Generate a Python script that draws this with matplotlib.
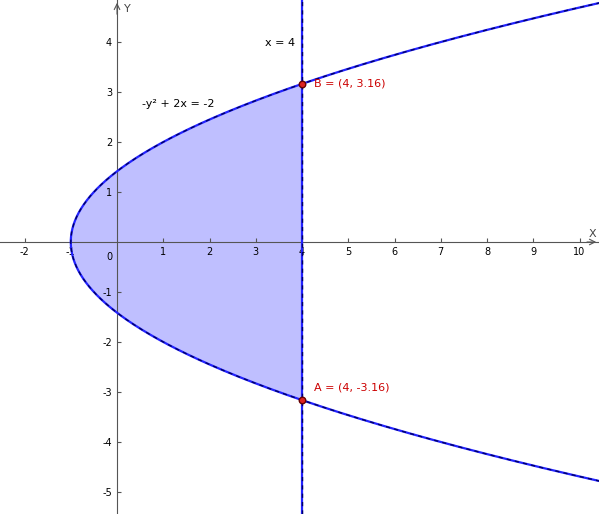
import numpy as np
import matplotlib.pyplot as plt

# data
x_line = 4
point_labels = ['A = (4, -3.16)', 'B = (4, 3.16)']
point_x = [4, 4]
point_y = [-np.sqrt(10), np.sqrt(10)]
x_ticks = [-2, -1, 1, 2, 3, 4, 5, 6, 7, 8, 9, 10]
y_ticks = [-5, -4, -3, -2, -1, 1, 2, 3, 4]

fig = plt.figure(figsize=(5.99, 5.14), dpi=100)
ax = fig.add_axes([0, 0, 1, 1])
ax.set_xlim(-2.53, 10.42)
ax.set_ylim(-5.44, 4.84)

# parabola -y^2 + 2x = -2
y = np.linspace(-6, 6, 600)
x = (y**2 - 2) / 2
ax.plot(x, y, color='#2222ff', lw=1.6, zorder=3)
ax.plot(x, y, color='#000066', lw=1.0, ls=(0, (3, 3)), zorder=3)

# shaded region
yf = np.linspace(point_y[0], point_y[1], 300)
ax.fill_betweenx(yf, (yf**2 - 2) / 2, x_line, color='#bfbfff', lw=0, zorder=1)

# vertical line x = 4
ax.axvline(x_line, color='#2222ff', lw=1.6, zorder=3)
ax.axvline(x_line, color='#000066', lw=1.0, ls=(0, (3, 3)), zorder=3)

# axes
for s in ['top', 'right']:
    ax.spines[s].set_visible(False)
ax.spines['left'].set_position('zero')
ax.spines['bottom'].set_position('zero')
ax.spines['left'].set_color('#555555')
ax.spines['bottom'].set_color('#555555')
ax.set_xticks(x_ticks)
ax.set_yticks(y_ticks)
ax.tick_params(labelsize=7, length=3, color='#555555', direction='in')
ax.set_xticklabels([str(t) for t in x_ticks])
ax.set_yticklabels([str(t) for t in y_ticks])
for lab in ax.get_xticklabels():
    lab.set_horizontalalignment('center')
ax.annotate('', xy=(10.42, 0), xytext=(10.1, 0),
            arrowprops=dict(arrowstyle='->', color='#555555', lw=0.8))
ax.annotate('', xy=(0, 4.84), xytext=(0, 4.5),
            arrowprops=dict(arrowstyle='->', color='#555555', lw=0.8))
ax.text(10.2, 0.1, 'X', fontsize=8, color='#444444')
ax.text(0.15, 4.6, 'Y', fontsize=8, color='#444444')
ax.text(-0.1, -0.2, '0', fontsize=7, ha='right', va='top')

# points
ax.scatter(point_x, point_y, s=22, color='#dd2222', edgecolor='#660000', zorder=5)
ax.text(4.25, point_y[1], point_labels[1], color='#cc0000', fontsize=8, va='center')
ax.text(4.25, point_y[0] + 0.25, point_labels[0], color='#cc0000', fontsize=8, va='center')

ax.text(3.2, 3.93, 'x = 4', fontsize=8)
ax.text(0.55, 2.7, '-y² + 2x = -2', fontsize=8)

fig.savefig('out.png', dpi=100)
